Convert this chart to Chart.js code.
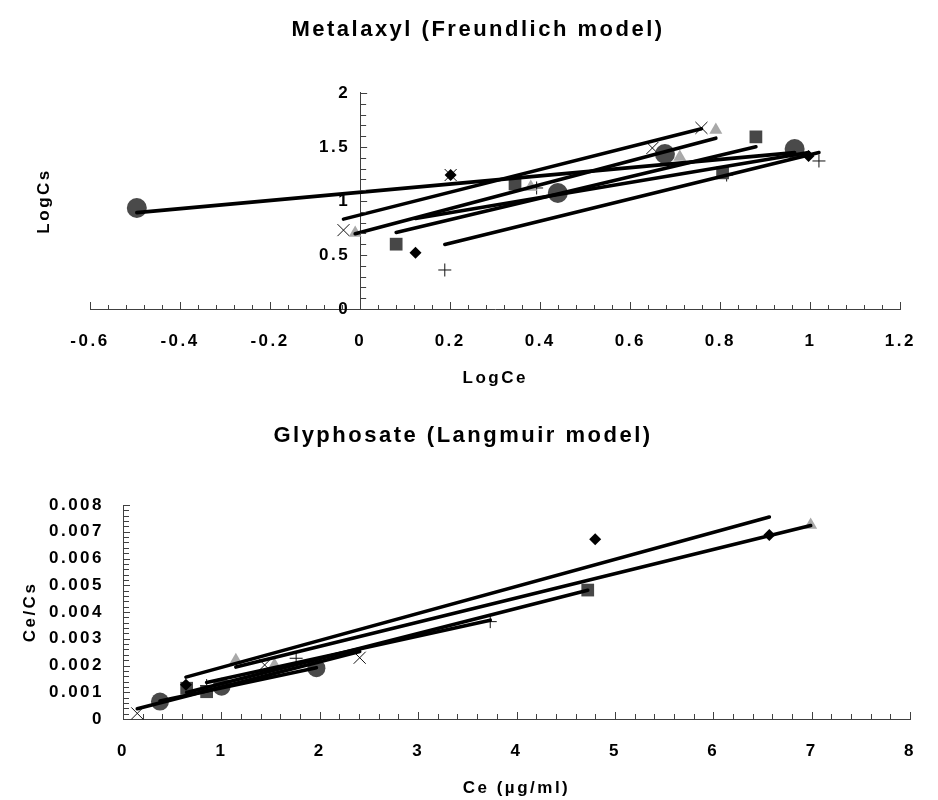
<!DOCTYPE html>
<html>
<head>
<meta charset="utf-8">
<script src="https://cdn.jsdelivr.net/npm/chart.js@4/dist/chart.umd.min.js"></script>
<style>
  html, body { margin: 0; padding: 0; background: #ffffff; }
  .box { position: relative; width: 938px; height: 400px; }
</style>
</head>
<body>
<div class="box"><canvas id="met"></canvas></div>
<div class="box"><canvas id="gly"></canvas></div>
<script>
// ---------------- Metalaxyl (Freundlich model): LogCe (x) vs LogCs (y) ----------------
const metDiamondX  = [0.123, 0.201, 0.996];
const metDiamondY  = [0.52, 1.24, 1.417];
const metSquareX   = [0.08, 0.344, 0.805, 0.879];
const metSquareY   = [0.60, 1.157, 1.26, 1.593];
const metTriangleX = [-0.011, 0.379, 0.71, 0.79];
const metTriangleY = [0.704, 1.13, 1.407, 1.657];
const metCrossX    = [-0.037, 0.201, 0.649, 0.758];
const metCrossY    = [0.73, 1.24, 1.49, 1.676];
const metCircleX   = [-0.496, 0.439, 0.677, 0.965];
const metCircleY   = [0.935, 1.074, 1.435, 1.48];
const metPlusX     = [0.188, 0.392, 0.814, 1.019];
const metPlusY     = [0.361, 1.12, 1.24, 1.37];
const metXTicks = [-0.6, -0.4, -0.2, 0, 0.2, 0.4, 0.6, 0.8, 1, 1.2];
const metYTicks = [0, 0.5, 1, 1.5, 2];

// ---------------- Glyphosate (Langmuir model): Ce (x) vs Ce/Cs (y) ----------------
const glyDiamondX  = [0.64, 4.80, 6.57];
const glyDiamondY  = [0.00128, 0.00672, 0.00688];
const glySquareX   = [0.647, 0.85, 4.724];
const glySquareY   = [0.00115, 0.00102, 0.00482];
const glyTriangleX = [1.147, 1.54, 6.99];
const glyTriangleY = [0.0022, 0.00202, 0.00725];
const glyCrossX    = [0.145, 1.44, 2.406];
const glyCrossY    = [0.00021, 0.00202, 0.00229];
const glyCircleX   = [0.376, 1.002, 1.966];
const glyCircleY   = [0.00065, 0.00121, 0.0019];
const glyPlusX     = [0.85, 1.76, 3.733];
const glyPlusY     = [0.00125, 0.00227, 0.00364];
const glyXTicks = [0, 1, 2, 3, 4, 5, 6, 7, 8];
const glyYTicks = [0, 0.001, 0.002, 0.003, 0.004, 0.005, 0.006, 0.007, 0.008];

// ---------------- styling ----------------
const FONT = "'Liberation Sans', Arial, Helvetica, sans-serif";
Chart.defaults.font.family = FONT;
Chart.defaults.color = '#000';
const AXIS = '#404040';
const LETTER_SPACING = '2.5px';

const markerStyle = {
  diamond:  { pointStyle: 'rectRot',  radius: 6,   bg: '#000000', border: '#000000', bw: 0 },
  square:   { pointStyle: 'rect',     radius: 9,   bg: '#474747', border: '#474747', bw: 0 },
  triangle: { pointStyle: 'triangle', radius: 7.5, bg: '#a8a8a8', border: '#a8a8a8', bw: 0 },
  cross:    { pointStyle: 'crossRot', radius: 8.5, bg: '#000000', border: '#111111', bw: 1 },
  circle:   { pointStyle: 'circle',   radius: 10,  bg: '#4a4a4a', border: '#4a4a4a', bw: 0 },
  plus:     { pointStyle: 'cross',    radius: 6.5, bg: '#000000', border: '#111111', bw: 1 }
};

// least-squares linear trendline spanning the series' x range (like a spreadsheet trendline)
function trend(xs, ys) {
  const n = xs.length;
  const mx = xs.reduce((a, b) => a + b, 0) / n;
  const my = ys.reduce((a, b) => a + b, 0) / n;
  let sxx = 0, sxy = 0;
  for (let i = 0; i < n; i++) { sxx += (xs[i] - mx) ** 2; sxy += (xs[i] - mx) * (ys[i] - my); }
  const b = sxy / sxx, a = my - b * mx;
  const x0 = Math.min(...xs), x1 = Math.max(...xs);
  return [{ x: x0, y: a + b * x0 }, { x: x1, y: a + b * x1 }];
}

function buildDatasets(series, circleRadius) {
  const pts = [], lines = [];
  series.forEach(s => {
    const st = markerStyle[s.marker];
    pts.push({
      label: s.name,
      data: s.x.map((x, i) => ({ x: x, y: s.y[i] })),
      showLine: false,
      pointStyle: st.pointStyle,
      pointRadius: s.marker === 'circle' ? circleRadius : st.radius,
      pointBackgroundColor: st.bg,
      pointBorderColor: st.border,
      pointBorderWidth: st.bw,
      clip: false, order: 2, xAxisID: 'x', yAxisID: 'y'
    });
    lines.push({
      label: s.name + ' trend',
      data: trend(s.x, s.y),
      showLine: true,
      borderColor: '#000000',
      borderWidth: 3.6,
      borderCapStyle: 'round',
      pointRadius: 0,
      clip: false, order: 1, xAxisID: 'x', yAxisID: 'y'
    });
  });
  return pts.concat(lines);
}

// inward major/minor tick marks drawn from the scales
const axisTicks = {
  id: 'axisTicks',
  afterDatasetsDraw(chart, args, o) {
    const { ctx, chartArea } = chart;
    const xs = chart.scales.x, ys = chart.scales.y;
    const yLineX = (o.yAt !== undefined && o.yAt !== null) ? xs.getPixelForValue(o.yAt) : chartArea.left;
    const xLineY = chartArea.bottom;
    const isMajor = (v, step) => Math.abs(v / step - Math.round(v / step)) < 1e-6;
    ctx.save();
    ctx.strokeStyle = AXIS;
    ctx.lineWidth = 1;
    ctx.beginPath();
    const nx = Math.round((xs.max - xs.min) / o.xMinor);
    for (let i = 0; i <= nx; i++) {
      const v = xs.min + i * o.xMinor;
      const px = Math.round(xs.getPixelForValue(v)) + 0.5;
      const len = isMajor(v, o.xMajor) ? o.xMajorLen : o.xMinorLen;
      ctx.moveTo(px, xLineY); ctx.lineTo(px, xLineY - len);
    }
    const ny = Math.round((ys.max - ys.min) / o.yMinor);
    for (let i = 0; i <= ny; i++) {
      const v = ys.min + i * o.yMinor;
      const py = Math.round(ys.getPixelForValue(v)) + 0.5;
      const len = isMajor(v, o.yMajor) ? o.yMajorLen : o.yMinorLen;
      ctx.moveTo(yLineX, py); ctx.lineTo(yLineX + len, py);
    }
    ctx.stroke();
    ctx.restore();
  }
};

// move the labels of a centred y axis a little further from its line
const yLabelGap = {
  id: 'yLabelGap',
  beforeDraw(chart, args, o) {
    if (!o.shift) return;
    const s = chart.scales.y;
    const items = s.getLabelItems(chart.chartArea);
    if (items._shifted) return;
    items.forEach(it => { it.options.translation[0] -= o.shift; });
    items._shifted = true;
  }
};

// spaced-out lettering like the reference
const spacing = {
  id: 'spacing',
  beforeUpdate(chart) { chart.ctx.letterSpacing = LETTER_SPACING; },
  beforeLayout(chart) { chart.ctx.letterSpacing = LETTER_SPACING; },
  beforeDraw(chart) { chart.ctx.letterSpacing = LETTER_SPACING; }
};

const tickFont = { family: FONT, size: 17, weight: 'bold' };
const titleFont = { family: FONT, size: 22, weight: 'bold' };

// ---------------- top chart ----------------
new Chart(document.getElementById('met'), {
  type: 'scatter',
  data: {
    datasets: buildDatasets([
      { name: 'Series 1', marker: 'diamond',  x: metDiamondX,  y: metDiamondY },
      { name: 'Series 2', marker: 'square',   x: metSquareX,   y: metSquareY },
      { name: 'Series 3', marker: 'triangle', x: metTriangleX, y: metTriangleY },
      { name: 'Series 4', marker: 'cross',    x: metCrossX,    y: metCrossY },
      { name: 'Series 5', marker: 'circle',   x: metCircleX,   y: metCircleY },
      { name: 'Series 6', marker: 'plus',     x: metPlusX,     y: metPlusY }
    ], 10)
  },
  options: {
    responsive: true, maintainAspectRatio: false, animation: false,
    layout: { padding: { left: 34, right: 16, top: 0, bottom: 0 } },
    plugins: {
      legend: { display: false }, tooltip: { enabled: false },
      title: { display: true, text: 'Metalaxyl (Freundlich model)', font: titleFont, color: '#000', padding: { top: 16.5, bottom: 50 } },
      axisTicks: { xMinor: 0.04, xMajor: 0.2, yMinor: 0.1, yMajor: 0.5, yAt: 0,
                   xMinorLen: 4, xMajorLen: 7, yMinorLen: 6, yMajorLen: 7 },
      yLabelGap: { shift: 10 }
    },
    scales: {
      x: {
        type: 'linear', position: 'bottom', min: -0.6, max: 1.2,
        afterBuildTicks: s => { s.ticks = metXTicks.map(v => ({ value: v })); },
        afterFit: s => { s.height = 91; },
        grid: { display: false, drawTicks: false },
        border: { display: true, color: AXIS, width: 1 },
        ticks: { padding: 22, font: tickFont, color: '#000', maxRotation: 0, autoSkip: false,
                 callback: v => String(+Number(v).toFixed(2)) },
        title: { display: true, text: 'LogCe', font: tickFont, color: '#000', padding: { top: 0, bottom: 11 } }
      },
      y: {
        type: 'linear', position: { x: 0 }, min: 0, max: 2,
        afterBuildTicks: s => { s.ticks = metYTicks.map(v => ({ value: v })); },
        afterFit: s => { s.width = 0; },
        grid: { display: false, drawTicks: false },
        border: { display: true, color: AXIS, width: 1 },
        ticks: { padding: 10, font: tickFont, color: '#000', autoSkip: false,
                 callback: v => String(+Number(v).toFixed(2)) }
      },
      yt: {
        type: 'linear', axis: 'y', position: 'left',
        afterFit: s => { s.width = 56; },
        grid: { display: false, drawTicks: false },
        border: { display: false },
        ticks: { display: false },
        title: { display: true, text: 'LogCs', font: tickFont, color: '#000', padding: { top: 0, bottom: 0 } }
      }
    }
  },
  plugins: [spacing, axisTicks, yLabelGap]
});

// ---------------- bottom chart ----------------
new Chart(document.getElementById('gly'), {
  type: 'scatter',
  data: {
    datasets: buildDatasets([
      { name: 'Series 1', marker: 'diamond',  x: glyDiamondX,  y: glyDiamondY },
      { name: 'Series 2', marker: 'square',   x: glySquareX,   y: glySquareY },
      { name: 'Series 3', marker: 'triangle', x: glyTriangleX, y: glyTriangleY },
      { name: 'Series 4', marker: 'cross',    x: glyCrossX,    y: glyCrossY },
      { name: 'Series 5', marker: 'circle',   x: glyCircleX,   y: glyCircleY },
      { name: 'Series 6', marker: 'plus',     x: glyPlusX,     y: glyPlusY }
    ], 9)
  },
  options: {
    responsive: true, maintainAspectRatio: false, animation: false,
    layout: { padding: { left: 15, right: 27, top: 0, bottom: 0 } },
    plugins: {
      legend: { display: false }, tooltip: { enabled: false },
      title: { display: true, text: 'Glyphosate (Langmuir model)', font: titleFont, color: '#000', padding: { top: 22.8, bottom: 55.8 } },
      axisTicks: { xMinor: 0.2, xMajor: 1, yMinor: 0.0002, yMajor: 0.001,
                   xMinorLen: 5, xMajorLen: 7, yMinorLen: 6, yMajorLen: 7 },
      yLabelGap: { shift: 0 }
    },
    scales: {
      x: {
        type: 'linear', position: 'bottom', min: 0, max: 8,
        afterBuildTicks: s => { s.ticks = glyXTicks.map(v => ({ value: v })); },
        afterFit: s => { s.height = 81; },
        grid: { display: false, drawTicks: false },
        border: { display: true, color: AXIS, width: 1 },
        ticks: { padding: 22, font: tickFont, color: '#000', maxRotation: 0, autoSkip: false,
                 callback: v => String(v) },
        title: { display: true, text: 'Ce (µg/ml)', font: tickFont, color: '#000', padding: { top: 0, bottom: 1 } }
      },
      y: {
        type: 'linear', position: 'left', min: 0, max: 0.008,
        afterBuildTicks: s => { s.ticks = glyYTicks.map(v => ({ value: v })); },
        afterFit: s => { s.width = 108; },
        grid: { display: false, drawTicks: false },
        border: { display: true, color: AXIS, width: 1 },
        ticks: { padding: 19, font: tickFont, color: '#000', autoSkip: false,
                 callback: v => (v === 0 ? '0' : Number(v).toFixed(3)) },
        title: { display: true, text: 'Ce/Cs', font: tickFont, color: '#000', padding: { top: 5, bottom: 0 } }
      }
    }
  },
  plugins: [spacing, axisTicks, yLabelGap]
});
</script>
</body>
</html>
